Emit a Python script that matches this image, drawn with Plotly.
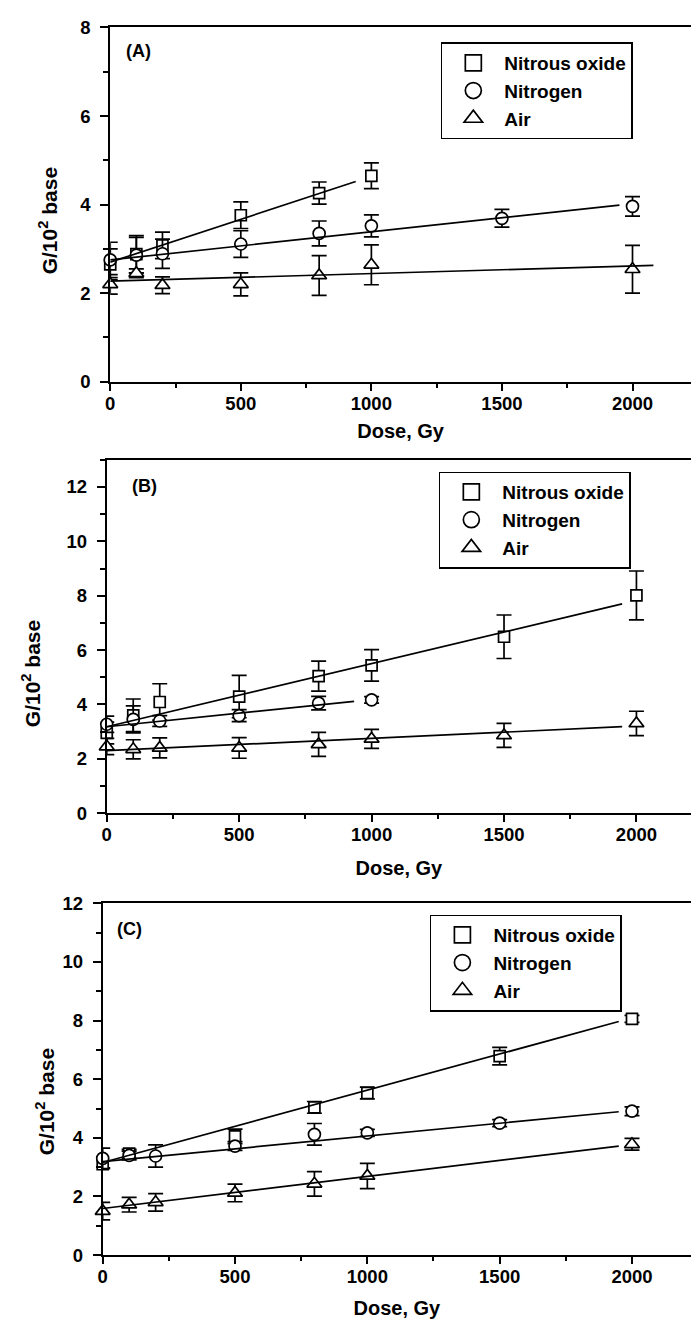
import plotly.graph_objects as go

W, H = 691, 1332

# ---------------- data ----------------
series_names = ["Nitrous oxide", "Nitrogen", "Air"]

# Panel A
dose_A_n2o = [0, 100, 200, 500, 800, 1000]
g_A_n2o = [2.65, 2.88, 3.08, 3.76, 4.26, 4.65]
err_A_n2o = [0.35, 0.42, 0.30, 0.30, 0.25, 0.29]
dose_A_n2 = [0, 100, 200, 500, 800, 1000, 1500, 2000]
g_A_n2 = [2.75, 2.86, 2.89, 3.11, 3.35, 3.52, 3.69, 3.96]
err_A_n2 = [0.40, 0.40, 0.33, 0.30, 0.28, 0.25, 0.20, 0.22]
dose_A_air = [0, 100, 200, 500, 800, 1000, 2000]
g_A_air = [2.20, 2.45, 2.18, 2.20, 2.40, 2.64, 2.54]
err_A_air = [0.22, 0.10, 0.19, 0.26, 0.45, 0.45, 0.54]
fit_A_n2o_x, fit_A_n2o_y = [0, 940], [2.70, 4.52]
fit_A_n2_x, fit_A_n2_y = [0, 1950], [2.75, 3.99]
fit_A_air_x, fit_A_air_y = [0, 2080], [2.27, 2.63]

# Panel B
dose_B_n2o = [0, 100, 200, 500, 800, 1000, 1500, 2000]
g_B_n2o = [2.95, 3.60, 4.09, 4.29, 5.04, 5.44, 6.49, 8.01]
err_B_n2o = [0.40, 0.60, 0.67, 0.78, 0.55, 0.58, 0.80, 0.90]
dose_B_n2 = [0, 100, 200, 500, 800, 1000]
g_B_n2 = [3.27, 3.45, 3.39, 3.59, 4.05, 4.17]
err_B_n2 = [0.30, 0.50, 0.20, 0.22, 0.25, 0.12]
dose_B_air = [0, 100, 200, 500, 800, 1000, 1500, 2000]
g_B_air = [2.45, 2.35, 2.40, 2.40, 2.53, 2.73, 2.86, 3.30]
err_B_air = [0.30, 0.35, 0.37, 0.38, 0.44, 0.35, 0.44, 0.45]
fit_B_n2o_x, fit_B_n2o_y = [0, 1946], [3.18, 7.70]
fit_B_n2_x, fit_B_n2_y = [0, 934], [3.18, 4.11]
fit_B_air_x, fit_B_air_y = [0, 1946], [2.30, 3.18]

# Panel C
dose_C_n2o = [0, 100, 500, 800, 1000, 1500, 2000]
g_C_n2o = [3.10, 3.46, 4.05, 5.04, 5.53, 6.79, 8.06]
err_C_n2o = [0.12, 0.15, 0.25, 0.20, 0.20, 0.30, 0.12]
dose_C_n2 = [0, 100, 200, 500, 800, 1000, 1500, 2000]
g_C_n2 = [3.30, 3.40, 3.38, 3.72, 4.12, 4.17, 4.50, 4.91]
err_C_n2 = [0.35, 0.15, 0.38, 0.15, 0.37, 0.12, 0.12, 0.15]
dose_C_air = [0, 100, 200, 500, 800, 1000, 2000]
g_C_air = [1.50, 1.72, 1.80, 2.12, 2.43, 2.70, 3.78]
err_C_air = [0.30, 0.25, 0.30, 0.30, 0.42, 0.43, 0.20]
fit_C_n2o_x, fit_C_n2o_y = [0, 1950], [3.16, 7.97]
fit_C_n2_x, fit_C_n2_y = [0, 1950], [3.19, 4.89]
fit_C_air_x, fit_C_air_y = [0, 1950], [1.59, 3.72]

panel_labels = ["(A)", "(B)", "(C)"]
x_tick_vals = [0, 500, 1000, 1500, 2000]
x_title = "Dose, Gy"
y_title = "G/10<sup>2</sup> base"

# ---------------- styling ----------------
FONT = "Liberation Sans, Arial, sans-serif"
symbols = ["square", "circle", "triangle-up"]
msizes = [11, 12, 13]

panels = [
    dict(sfx="", leg="legend",
         data=[(dose_A_n2o, g_A_n2o, err_A_n2o, fit_A_n2o_x, fit_A_n2o_y),
               (dose_A_n2, g_A_n2, err_A_n2, fit_A_n2_x, fit_A_n2_y),
               (dose_A_air, g_A_air, err_A_air, fit_A_air_x, fit_A_air_y)],
         xpx=(106, 691), ypx=(16.7, 376.7), xr=[0, 2224], yr=[0, 8],
         ydt=2, ymin=1, legxy=(439, 32), lab=(134, 41), ytit=(43, 213),
         xstand=11),
    dict(sfx="2", leg="legend2",
         data=[(dose_B_n2o, g_B_n2o, err_B_n2o, fit_B_n2o_x, fit_B_n2o_y),
               (dose_B_n2, g_B_n2, err_B_n2, fit_B_n2_x, fit_B_n2_y),
               (dose_B_air, g_B_air, err_B_air, fit_B_air_x, fit_B_air_y)],
         xpx=(102.5, 691), ypx=(456, 815), xr=[0, 2206], yr=[0, 13],
         ydt=2, ymin=1, legxy=(437, 468), lab=(141, 483), ytit=(27, 673),
         xstand=17),
    dict(sfx="3", leg="legend3",
         data=[(dose_C_n2o, g_C_n2o, err_C_n2o, fit_C_n2o_x, fit_C_n2o_y),
               (dose_C_n2, g_C_n2, err_C_n2, fit_C_n2_x, fit_C_n2_y),
               (dose_C_air, g_C_air, err_C_air, fit_C_air_x, fit_C_air_y)],
         xpx=(98.4, 691), ypx=(906.7, 1264), xr=[0, 2223], yr=[0, 12],
         ydt=2, ymin=1, legxy=(428, 918), lab=(125, 933), ytit=(40, 1108),
         xstand=15),
]

fig = go.Figure()
annotations = []
layout = dict(
    width=W, height=H, margin=dict(l=0, r=0, t=0, b=0),
    paper_bgcolor="white", plot_bgcolor="white",
    font=dict(family=FONT, color="black", size=18, weight="bold"),
)

for k, p in enumerate(panels):
    xa, ya = "x" + p["sfx"], "y" + p["sfx"]
    # data points with error bars
    for i, (dx, gy, er, fx, fy) in enumerate(p["data"]):
        fig.add_trace(go.Scatter(
            x=dx, y=gy, mode="markers", xaxis=xa, yaxis=ya,
            name=series_names[i], showlegend=False, cliponaxis=False,
            marker=dict(symbol=symbols[i], size=msizes[i], color="white",
                        line=dict(color="black", width=1.7)),
            error_y=dict(type="data", array=er, visible=True, color="black",
                         thickness=1.7, width=7.5),
        ))
    # fitted lines
    for i, (dx, gy, er, fx, fy) in enumerate(p["data"]):
        fig.add_trace(go.Scatter(
            x=fx, y=fy, mode="lines", xaxis=xa, yaxis=ya, showlegend=False,
            name=series_names[i] + " fit",
            line=dict(color="black", width=1.7), cliponaxis=False,
        ))
    # legend entries
    for i, nm in enumerate(series_names):
        fig.add_trace(go.Scatter(
            x=[None], y=[None], mode="markers", name=nm, xaxis=xa, yaxis=ya,
            legend=p["leg"], showlegend=True,
            marker=dict(symbol=symbols[i], size=16, color="white",
                        line=dict(color="black", width=1.7)),
        ))

    x0, x1 = p["xpx"]
    yt, yb = p["ypx"]
    layout["xaxis" + p["sfx"]] = dict(
        domain=[x0 / W, x1 / W], range=p["xr"], anchor=ya,
        showline=True, linecolor="black", linewidth=2, mirror=True,
        ticks="outside", ticklen=7, tickwidth=2, tickcolor="black",
        tickvals=x_tick_vals, ticktext=[str(v) for v in x_tick_vals],
        tickfont=dict(size=18.5, weight="bold"), ticklabelstandoff=-3,
        minor=dict(dtick=250, tick0=0, ticks="outside", ticklen=4, tickwidth=2,
                   tickcolor="black", showgrid=False),
        showgrid=False, zeroline=False,
        title=dict(text=x_title, font=dict(size=20, weight="bold"),
                   standoff=p["xstand"]),
    )
    layout["yaxis" + p["sfx"]] = dict(
        domain=[1 - yb / H, 1 - yt / H], range=p["yr"], anchor=xa,
        showline=True, linecolor="black", linewidth=2, mirror=False,
        ticks="outside", ticklen=8, tickwidth=2, tickcolor="black",
        dtick=p["ydt"], tick0=0,
        tickfont=dict(size=18.5, weight="bold"), ticklabelstandoff=6,
        minor=dict(dtick=p["ymin"], tick0=0, ticks="outside", ticklen=5,
                   tickwidth=2, tickcolor="black", showgrid=False),
        showgrid=False, zeroline=False,
    )
    lx, ly = p["legxy"]
    layout[p["leg"]] = dict(
        x=lx / W, y=1 - ly / H, xanchor="left", yanchor="top",
        bordercolor="black", borderwidth=1.5, bgcolor="white",
        font=dict(size=19, weight="bold"), itemwidth=52,
    )
    annotations.append(dict(
        text=panel_labels[k], x=p["lab"][0] / W, y=1 - p["lab"][1] / H,
        xref="paper", yref="paper", showarrow=False, xanchor="center", yanchor="middle",
        font=dict(size=18, weight="bold"),
    ))
    annotations.append(dict(
        text=y_title, x=p["ytit"][0] / W, y=1 - p["ytit"][1] / H,
        xref="paper", yref="paper", showarrow=False, textangle=-90,
        xanchor="center", yanchor="middle", font=dict(size=21, weight="bold"),
    ))

layout["annotations"] = annotations
fig.update_layout(**layout)
fig.write_html("out.html")
